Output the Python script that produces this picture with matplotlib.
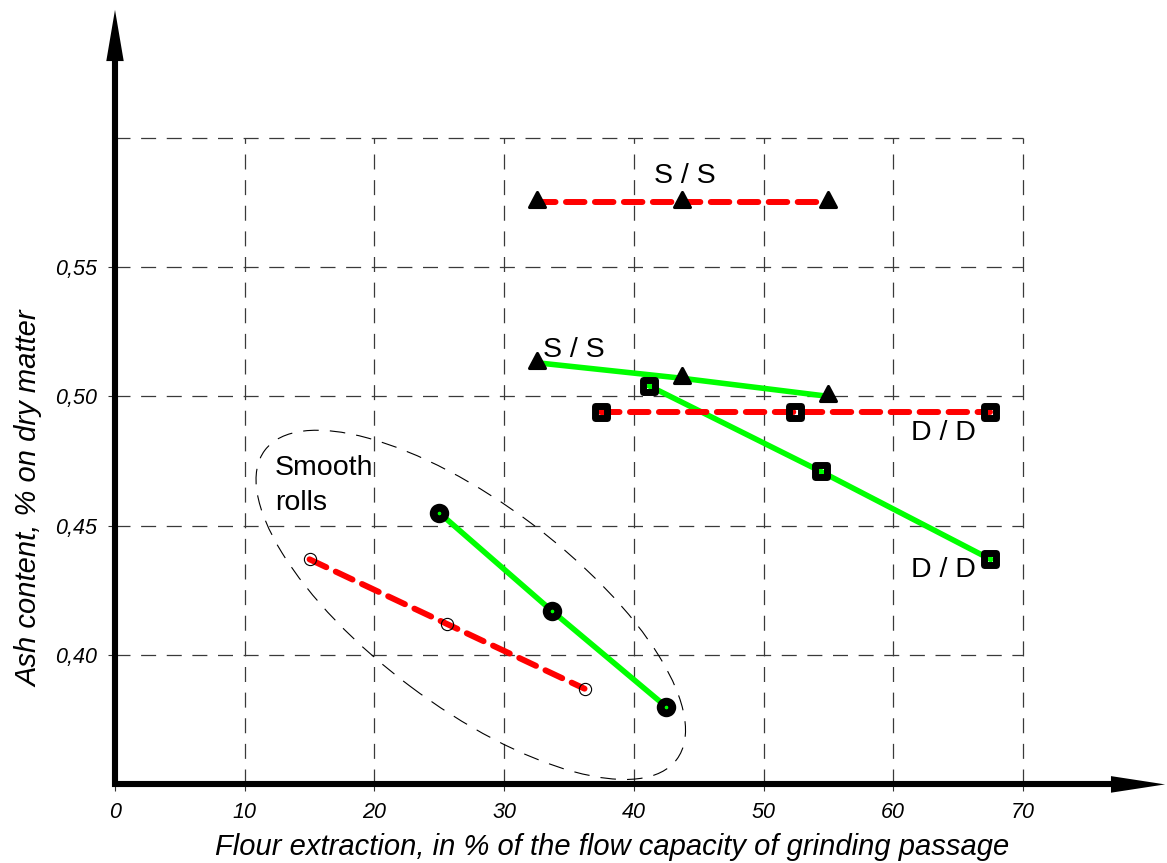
import matplotlib
matplotlib.use("Agg")
import matplotlib.pyplot as plt
from matplotlib.markers import MarkerStyle
from matplotlib.path import Path
from matplotlib.patches import Ellipse, Polygon
from matplotlib.transforms import Affine2D, ScaledTranslation
from matplotlib.lines import Line2D

plt.rcParams['font.family'] = ['Liberation Sans', 'DejaVu Sans']

# ---------------- data ----------------
x_ticks = [0, 10, 20, 30, 40, 50, 60, 70]
y_ticks = [0.40, 0.45, 0.50, 0.55]
y_grid = [0.40, 0.45, 0.50, 0.55, 0.60]
y_tick_labels = ["0,40", "0,45", "0,50", "0,55"]

ss_red_x = [32.5, 43.7, 55.0]
ss_red_y = [0.575, 0.575, 0.575]
ss_green_x = [32.5, 43.7, 55.0]
ss_green_y = [0.513, 0.507, 0.500]

dd_red_x = [37.5, 52.4, 67.5]
dd_red_y = [0.494, 0.494, 0.494]
dd_green_x = [41.2, 54.4, 67.5]
dd_green_y = [0.504, 0.471, 0.437]

sm_green_x = [25.0, 33.7, 42.5]
sm_green_y = [0.455, 0.417, 0.380]
sm_red_x = [15.0, 25.6, 36.2]
sm_red_y = [0.437, 0.412, 0.387]

xlabel = "Flour extraction, in % of the flow capacity of grinding passage"
ylabel = "Ash content, % on dry matter"

# ---------------- figure ----------------
W, H = 1167, 863
fig = plt.figure(figsize=(W / 100, H / 100), dpi=100)
ax = fig.add_axes([115 / W, (H - 784.4) / H, 1050.6 / W, 776.1 / H])
ax.set_xlim(0, 81)
ax.set_ylim(0.35, 0.65)
for s in ax.spines.values():
    s.set_visible(False)

ax.set_xticks(x_ticks)
ax.set_xticklabels([str(v) for v in x_ticks])
ax.set_yticks(y_ticks)
ax.set_yticklabels(y_tick_labels)
ax.tick_params(axis='both', length=5, width=0.8, color='#333333',
               labelsize=15.5, pad=8)
for lab in ax.get_xticklabels() + ax.get_yticklabels():
    lab.set_fontstyle('italic')

# grid
gcol = '#3a3a3a'
gls = (0, (12, 8.5))
ax.hlines(y_grid, 0, x_ticks[-1], colors=gcol, linewidth=0.9, linestyles=[gls], zorder=1)
ax.vlines(x_ticks[1:], 0.35, y_grid[-1], colors=gcol, linewidth=0.9, linestyles=[gls], zorder=1)

# axes arrows
ax.add_line(Line2D([0.95, 0, 0], [0, 0, 0.935], transform=ax.transAxes,
                   color='black', linewidth=4.4, solid_joinstyle='miter',
                   solid_capstyle='butt', clip_on=False, zorder=5))
ax.add_patch(Polygon([(0.948, -0.0107), (0.9995, 0), (0.948, 0.0107)],
                     closed=True, transform=ax.transAxes, facecolor='black',
                     edgecolor='none', clip_on=False, zorder=5))
ax.add_patch(Polygon([(-0.0083, 0.932), (0, 0.998), (0.0083, 0.932)],
                     closed=True, transform=ax.transAxes, facecolor='black',
                     edgecolor='none', clip_on=False, zorder=5))

# markers
tri = MarkerStyle(Path([(-1, -0.63), (1, -0.63), (0, 1.26), (-1, -0.63)],
                       [Path.MOVETO, Path.LINETO, Path.LINETO, Path.CLOSEPOLY]),
                  joinstyle='round')
sq = MarkerStyle('s', joinstyle='round')

GREEN = '#00ff00'
RED = '#ff0000'
red_ls = (0, (3.1, 1.75))

# green lines first
ax.plot(ss_green_x, ss_green_y, color=GREEN, lw=4.0, marker=tri, ms=14.5,
        mfc='black', mec='black', mew=2.2, zorder=3)
ax.plot(dd_green_x, dd_green_y, color=GREEN, lw=4.0, marker=sq, ms=8.6,
        mfc='none', mec='black', mew=5.0, zorder=3)
ax.plot(sm_green_x, sm_green_y, color=GREEN, lw=4.0, marker='o', ms=8.4,
        mfc='none', mec='black', mew=5.6, zorder=3)

# red dashed lines
ax.plot(ss_red_x, ss_red_y, color=RED, lw=4.3, ls=red_ls, dash_capstyle='round',
        marker=tri, ms=14.5, mfc='black', mec='black', mew=2.2, zorder=4)
ax.plot(dd_red_x, dd_red_y, color=RED, lw=4.3, ls=red_ls, dash_capstyle='round',
        marker=sq, ms=8.6, mfc='none', mec='black', mew=5.0, zorder=4)
ax.plot(sm_red_x, sm_red_y, color=RED, lw=4.3, ls=red_ls, dash_capstyle='round',
        marker='o', ms=8.8, mfc='none', mec='black', mew=0.8, zorder=4)

# ellipse around smooth rolls (semi-axes in pixels)
ell_center = (27.43, 0.4194)
ell_a, ell_b, ell_angle = 257.5, 101.5, -36.9
ell = Ellipse((0, 0), 2 * ell_a, 2 * ell_b, angle=ell_angle,
              transform=Affine2D().scale(fig.dpi / 100) +
              ScaledTranslation(ell_center[0], ell_center[1], ax.transData),
              facecolor='none', edgecolor='black', linewidth=0.8,
              linestyle=(0, (14, 10)), zorder=2)
ax.add_patch(ell)

# annotations
tfs = 20.5
ax.text(43.95, 0.5823, "S / S", fontsize=tfs, ha='center', va='baseline')
ax.text(35.39, 0.5153, "S / S", fontsize=tfs, ha='center', va='baseline')
ax.text(63.86, 0.4831, "D / D", fontsize=tfs, ha='center', va='baseline')
ax.text(63.86, 0.4303, "D / D", fontsize=tfs, ha='center', va='baseline')
ax.text(12.34, 0.4696, "Smooth", fontsize=tfs, ha='left', va='baseline')
ax.text(12.34, 0.4561, "rolls", fontsize=tfs, ha='left', va='baseline')

# axis labels
fig.text(612.5 / W, 1 - 855 / H, xlabel, fontsize=21, fontstyle='italic',
         ha='center', va='baseline')
fig.text(37 / W, 1 - 499 / H, ylabel, fontsize=21, fontstyle='italic',
         ha='center', va='baseline', rotation=90, rotation_mode='anchor')

fig.savefig("out.png", dpi=100)
